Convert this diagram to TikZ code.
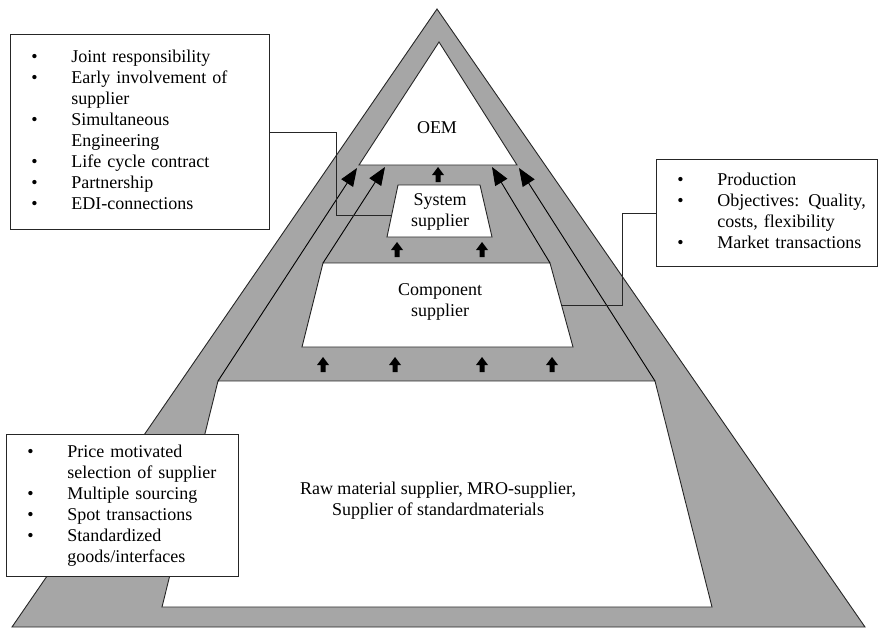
\documentclass[tikz,border=0pt]{standalone}
\usepackage{fontspec}
\setmainfont{Liberation Serif}
\usetikzlibrary{arrows.meta,calc,positioning}

\begin{document}
\begin{tikzpicture}[
    x=1pt, y=-1pt,
    every node/.style={font=\fontsize{18}{21}\selectfont},
    layer/.style={draw=black!85, fill=white, line width=0.9pt},
    infobox/.style={draw=black!85, fill=white, line width=0.9pt,
        anchor=north west, inner sep=0pt, align=left},
    link/.style={draw=black!85, line width=0.9pt},
    flow/.style={line width=0.9pt, -{Triangle[length=18pt,width=14pt]}},
 ]
    \useasboundingbox (0,0) rectangle (878,629);

    % outer pyramid and OEM top
    \filldraw[fill=gray!70, draw=black!85, line width=0.9pt]
        (437,9) -- (865,627) -- (12,627) -- cycle;
    \filldraw[layer] (439,42) -- (517,165) -- (359,165) -- cycle;
    \node (oem) at (437,128) {OEM};

    % system supplier
    \coordinate (sys-tl) at (398,185);  \coordinate (sys-tr) at (480,185);
    \coordinate (sys-br) at (492,237);  \coordinate (sys-bl) at (387,237);
    \filldraw[layer] (sys-tl) -- (sys-tr) -- (sys-br) -- (sys-bl) -- cycle;
    \node[align=center] (sys) at (440,212) {System\\supplier};

    % component supplier
    \coordinate (comp-tl) at (323,263); \coordinate (comp-tr) at (550,263);
    \coordinate (comp-br) at (573,347); \coordinate (comp-bl) at (302,347);
    \filldraw[layer] (comp-tl) -- (comp-tr) -- (comp-br) -- (comp-bl) -- cycle;
    \node[align=center] (comp) at (440,302) {Component\\supplier};

    % raw material
    \coordinate (raw-tl) at (218,381);  \coordinate (raw-tr) at (655,381);
    \coordinate (raw-br) at (712,607);  \coordinate (raw-bl) at (162,607);
    \filldraw[layer] (raw-tl) -- (raw-tr) -- (raw-br) -- (raw-bl) -- cycle;
    \node[align=center] (raw) at (438,501)
        {Raw material supplier, MRO-supplier,\\Supplier of standardmaterials};

    % small arrows between the layers
    \foreach \x/\y in {438/182, 397/257, 482/257, 323/372, 395/372, 482/372, 552/372}
        \fill (\x,\y) ++(-2.5,0) -- ++(5,0) -- ++(0,-7) -- ++(3.5,0)
            -- ++(-6,-8) -- ++(-6,8) -- ++(3.5,0) -- cycle;

    % long arrows up to the OEM
    \coordinate (tip-a) at (357,168);
    \coordinate (tip-b) at (385,167);
    \coordinate (tip-c) at (492,167);
    \coordinate (tip-d) at (519,168);
    \draw[flow] (raw-tl) -- (tip-a);
    \draw[flow] (comp-tl) -- (tip-b);
    \draw[flow] (comp-tr) -- (tip-c);
    \draw[flow] (raw-tr) -- (tip-d);

    % text boxes
    \node[infobox, text width=259pt, minimum height=195pt] (partner) at (10,34) {%
        \begin{tabular}{@{\hspace{21pt}}p{40pt}@{}l@{}}
        \textbullet & Joint responsibility\\
        \textbullet & Early involvement of\\
                    & supplier\\
        \textbullet & Simultaneous\\
                    & Engineering\\
        \textbullet & Life cycle contract\\
        \textbullet & Partnership\\
        \textbullet & EDI-connections
        \end{tabular}};
    \node[infobox, text width=221pt, minimum height=107pt] (market) at (656,159) {%
        \begin{tabular}{@{\hspace{21pt}}p{40pt}@{}l@{}}
        \textbullet & Production\\
        \textbullet & Objectives: Quality,\\
                    & costs, flexibility\\
        \textbullet & Market transactions
        \end{tabular}};
    \node[infobox, text width=232pt, minimum height=142pt] (sourcing) at (6,434) {%
        \begin{tabular}{@{\hspace{21pt}}p{40pt}@{}l@{}}
        \textbullet & Price motivated\\
                    & selection of supplier\\
        \textbullet & Multiple sourcing\\
        \textbullet & Spot transactions\\
        \textbullet & Standardized\\
                    & goods/interfaces
        \end{tabular}};

    % connectors
    \coordinate (sys-in) at ($(sys-tl)!0.58!(sys-bl)$);
    \coordinate (comp-in) at ($(comp-tr)!0.5!(comp-br)$);
    \draw[link] (partner.east) -- ++(67,0) |- (sys-in);
    \draw[link] (market.west) -- ++(-34,0) |- (comp-in);
\end{tikzpicture}
\end{document}
